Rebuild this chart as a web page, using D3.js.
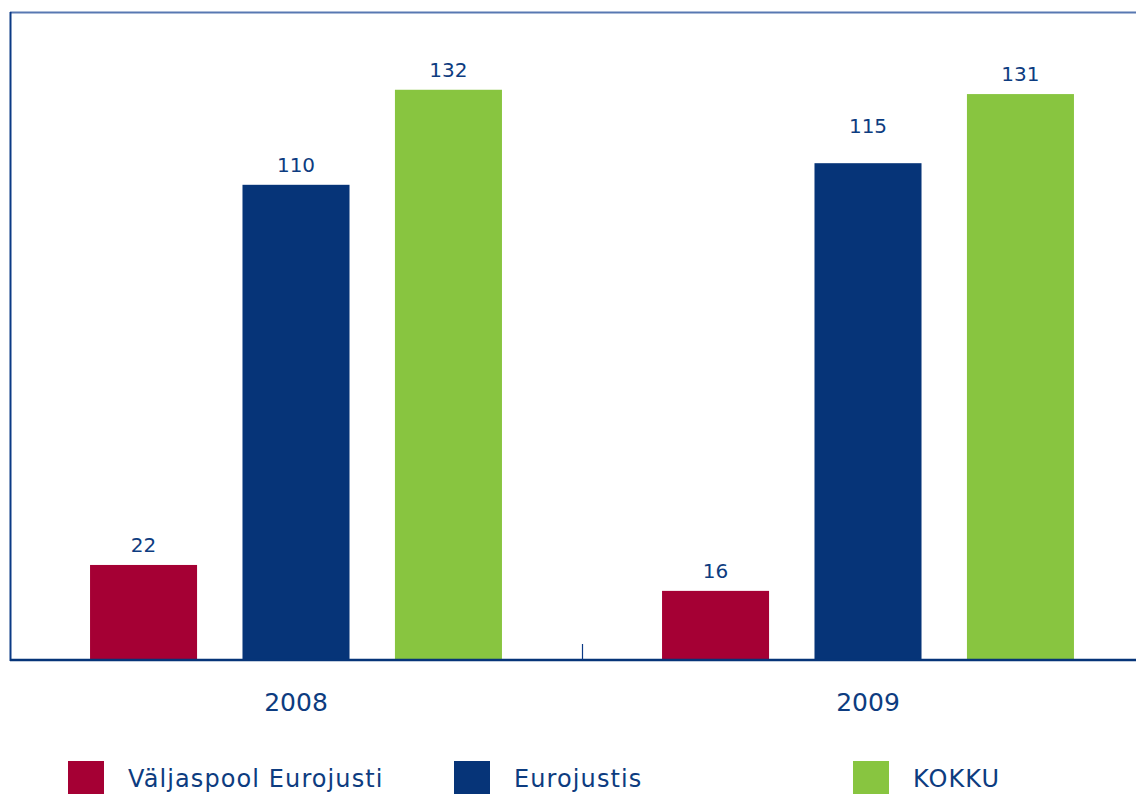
<!DOCTYPE html>
<html>
<head>
<meta charset="utf-8">
<script src="https://cdn.jsdelivr.net/npm/d3@7"></script>
<style>
  body { margin: 0; background: #fff; }
  text { font-family: "DejaVu Sans", Verdana, sans-serif; fill: #0d3c80; }
</style>
</head>
<body>
<div id="chart"></div>
<script>
const years = ['2008', '2009'];
const seriesNames = ['Väljaspool Eurojusti', 'Eurojustis', 'KOKKU'];
const valuesOutside = [22, 16];
const valuesEurojust = [110, 115];
const valuesTotal = [132, 131];
const colors = ['#a50034', '#063478', '#88c540'];

const seriesValues = [valuesOutside, valuesEurojust, valuesTotal];

const width = 1136;
const height = 794;
const plot = { left: 10, top: 12, bottom: 660, right: 1154 };

// the 2009 Eurojustis label sits higher than the rest in the original
const labelLift = { '2009|Eurojustis': 17 };

const svg = d3.select('#chart').append('svg')
    .attr('width', width)
    .attr('height', height);

const xGroup = d3.scaleBand()
    .domain(years)
    .range([plot.left, plot.right]);

const xInner = d3.scaleBand()
    .domain(seriesNames)
    .range([0, xGroup.bandwidth()])
    .paddingInner(0.298)
    .paddingOuter(0.525);

const yScale = d3.scaleLinear()
    .domain([0, 150])
    .range([plot.bottom, plot.top]);

const rows = [];
years.forEach((year, i) => {
    seriesNames.forEach((name, j) => {
        rows.push({ year, name, value: seriesValues[j][i], color: colors[j] });
    });
});

// top frame line
svg.append('line')
    .attr('x1', plot.left).attr('x2', width)
    .attr('y1', plot.top + 0.5).attr('y2', plot.top + 0.5)
    .attr('stroke', '#5878b2')
    .attr('stroke-width', 2);

const bars = svg.append('g').attr('class', 'bars');

bars.selectAll('rect').data(rows)
  .enter().append('rect')
    .attr('x', d => xGroup(d.year) + xInner(d.name))
    .attr('y', d => yScale(d.value))
    .attr('width', xInner.bandwidth())
    .attr('height', d => yScale(0) - yScale(d.value))
    .attr('fill', d => d.color);

bars.selectAll('text').data(rows)
  .enter().append('text')
    .attr('x', d => xGroup(d.year) + xInner(d.name) + xInner.bandwidth() / 2)
    .attr('y', d => yScale(d.value) - 13 - (labelLift[`${d.year}|${d.name}`] || 0))
    .attr('text-anchor', 'middle')
    .style('font-size', '20px')
    .text(d => d.value);

// left axis
svg.append('line')
    .attr('x1', plot.left + 0.5).attr('x2', plot.left + 0.5)
    .attr('y1', plot.top).attr('y2', plot.bottom + 1)
    .attr('stroke', '#0b3a85')
    .attr('stroke-width', 2);

// baseline
svg.append('line')
    .attr('x1', plot.left).attr('x2', width)
    .attr('y1', plot.bottom).attr('y2', plot.bottom)
    .attr('stroke', '#063478')
    .attr('stroke-width', 2.5);

// group divider tick
svg.append('line')
    .attr('x1', xGroup(years[1]) + 0.5).attr('x2', xGroup(years[1]) + 0.5)
    .attr('y1', plot.bottom - 16).attr('y2', plot.bottom)
    .attr('stroke', '#0b3a85')
    .attr('stroke-width', 1.2);

// year labels
svg.append('g').selectAll('text').data(years)
  .enter().append('text')
    .attr('x', d => xGroup(d) + xGroup.bandwidth() / 2)
    .attr('y', 711)
    .attr('text-anchor', 'middle')
    .style('font-size', '25px')
    .text(d => d);

// legend
const legendX = [68, 454, 853];
const legend = svg.append('g').attr('class', 'legend')
    .selectAll('g').data(seriesNames)
  .enter().append('g')
    .attr('transform', (d, i) => `translate(${legendX[i]},761)`);

legend.append('rect')
    .attr('width', 36)
    .attr('height', 33)
    .attr('fill', (d, i) => colors[i]);

legend.append('text')
    .attr('x', 60)
    .attr('y', 26)
    .style('font-size', '24px')
    .style('letter-spacing', '1.1px')
    .text(d => d);
</script>
</body>
</html>
